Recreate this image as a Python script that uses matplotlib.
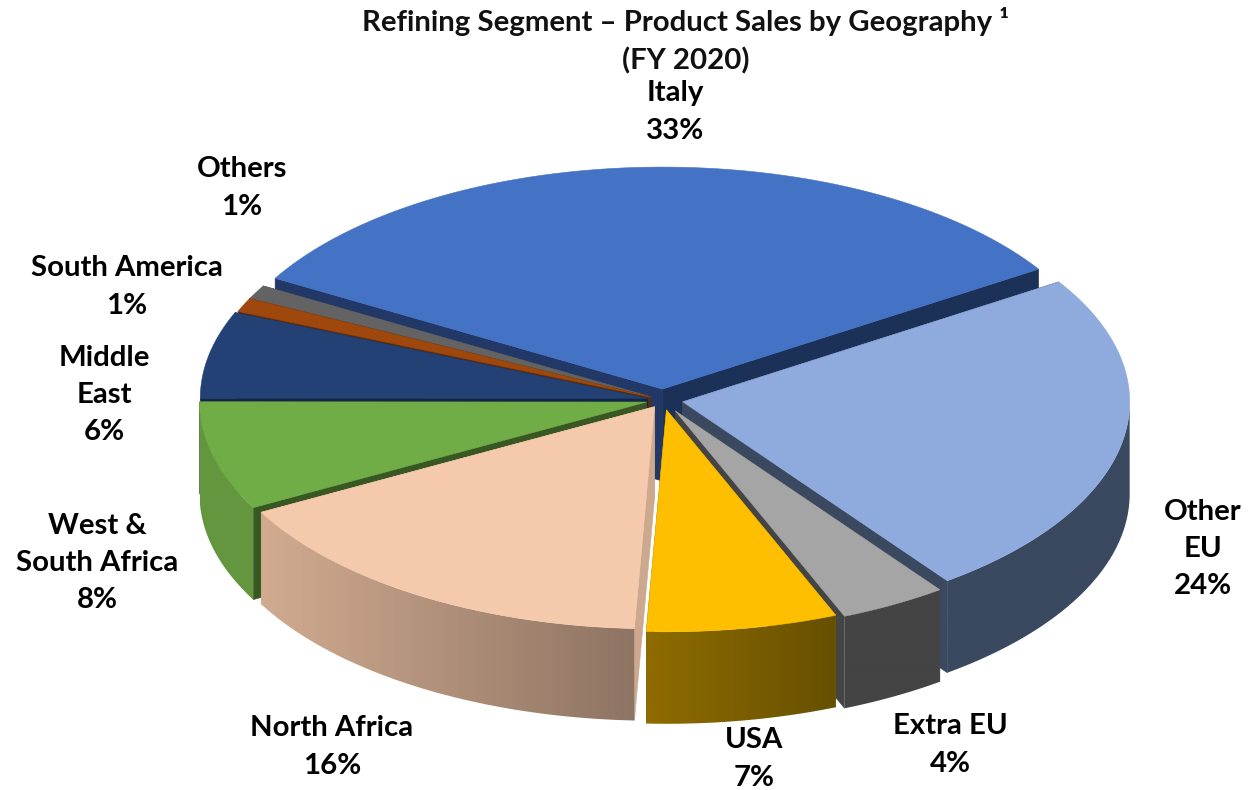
import numpy as np
import matplotlib
matplotlib.use("Agg")
import matplotlib.pyplot as plt
from matplotlib.colors import to_rgb
from matplotlib.patches import Polygon

plt.rcParams["font.family"] = ["Lato", "DejaVu Sans"]

# data, clockwise from Italy (labels show them rounded)
categories = ["Italy", "Other\nEU", "Extra EU", "USA", "North Africa",
              "West &\nSouth Africa", "Middle\nEast", "South America", "Others"]
values = [32.6, 24.0, 3.9, 6.9, 16.4, 7.9, 6.3, 1.0, 1.0]
title = "Refining Segment \u2013 Product Sales by Geography \u00b9\n(FY 2020)"

# styles
top_col = ["#4472c4", "#8faadc", "#a5a5a5", "#fdbf00", "#f4c9ac",
           "#70ad47", "#234175", "#9e480e", "#636363"]
wall_col = [("#203864", "#203864"), ("#3a4960", "#3a4960"), ("#444444", "#444444"),
            ("#8f6c00", "#665000"), ("#d1ab90", "#8e7463"), ("#64963f", "#64963f"),
            ("#1a3058", "#1a3058"), ("#5f2c08", "#5f2c08"), ("#3c3c3c", "#3c3c3c")]
cut_col = [("#223867", "#1b3158"), ("#3a4960", "#3a4960"), ("#444444", "#444444"),
           ("#7f6000", "#7f6000"), ("#cba88e", "#cba88e"), ("#385723", "#385723"),
           ("#13264a", "#13264a"), ("#5f2c08", "#5f2c08"), ("#3c3c3c", "#3c3c3c")]
explode = [22, 20, 25, 20, 16, 17, 16, 14, 14]
paint_order = [0, 8, 7, 6, 1, 5, 2, 4, 3]
label_xy = [(675, 112), (1203, 549), (950, 745), (754, 759), (332, 747),
            (97, 563), (104, 395), (127, 287), (242, 188)]

CX, CY = 663, 400
RX, RY = 447, 222
DEPTH = 92
START = 32.7  # angle where Italy ends, degrees

fig = plt.figure(figsize=(12.48, 7.9), dpi=100)
ax = fig.add_axes([0, 0, 1, 1])


def arc(c, a0, a1, n=80):
    t = np.radians(np.linspace(a0, a1, n))
    return np.column_stack([c[0] + RX * np.cos(t), c[1] - RY * np.sin(t)])


def flat(pts, color, z):
    ax.add_patch(Polygon(pts, closed=True, facecolor=color, edgecolor=color, lw=0.4, zorder=z))


def wall(pts, colors, z):
    # gradient goes left to right across the wall
    x0, x1 = pts[:, 0].min(), pts[:, 0].max()
    y0, y1 = pts[:, 1].min(), pts[:, 1].max()
    c0, c1 = np.array(to_rgb(colors[0])), np.array(to_rgb(colors[1]))
    grad = np.linspace(c0, c1, 256)[np.newaxis, :, :]
    im = ax.imshow(grad, extent=(x0, x1, y1, y0), aspect="auto", zorder=z, interpolation="bilinear")
    im.set_clip_path(Polygon(pts, closed=True, transform=ax.transData))


spans = np.array(values) / sum(values) * 360
ends = START + spans[0] - np.cumsum(spans)
starts = ends + spans

z = 1
for i in paint_order:
    a0, a1 = starts[i], ends[i]
    mid = np.radians((a0 + a1) / 2)
    c = (CX + explode[i] * np.cos(mid), CY - explode[i] * RY / RX * np.sin(mid))
    down = np.array([0, DEPTH])
    # cut faces
    for a, col in zip((a0, a1), cut_col[i]):
        e = arc(c, a, a, 1)[0]
        flat([c, e, e + down, np.array(c) + down], col, z)
        z += 1
    # outer wall, front half only
    lo, hi = max(a1, -180), min(a0, 0)
    if hi > lo:
        rim = arc(c, hi, lo)
        wall(np.vstack([rim, rim[::-1] + down]), wall_col[i], z)
        z += 1
    # top
    flat(np.vstack([[c], arc(c, a0, a1)]), top_col[i], z)
    z += 1

ax.set_xlim(0, 1248)
ax.set_ylim(790, 0)
ax.axis("off")

for name, v, (x, y) in zip(categories, values, label_xy):
    ax.text(x, y, f"{name}\n{v:.0f}%", ha="center", va="center", fontsize=21.2, fontweight="bold",
            color="black", linespacing=1.53, zorder=z)
ax.text(686, 41, title, ha="center", va="center", fontsize=21.2, fontweight="bold",
        color="#111111", linespacing=1.53, zorder=z)

fig.savefig("out.png", dpi=100)
